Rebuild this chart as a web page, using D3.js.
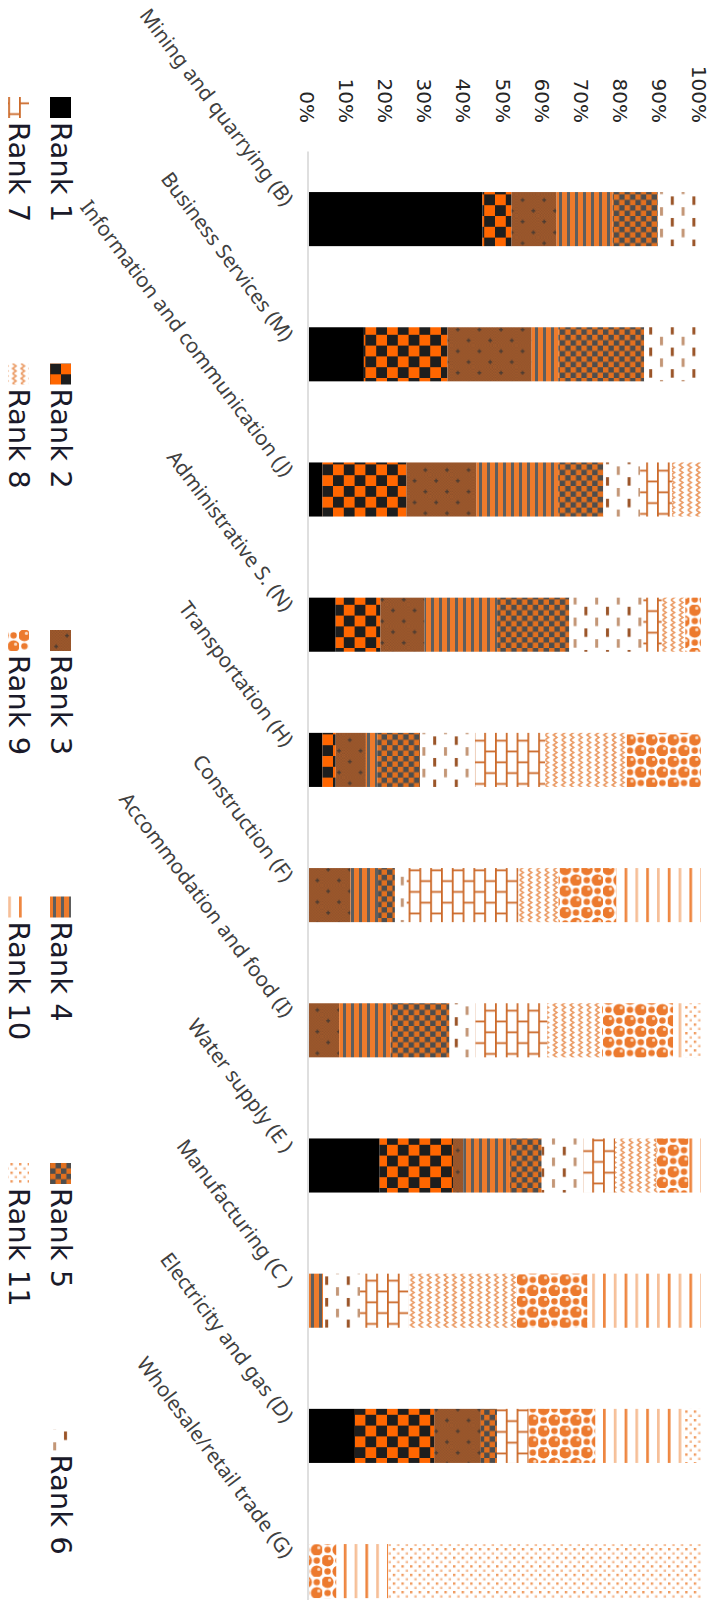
<!DOCTYPE html>
<html><head><meta charset="utf-8">
<script src="https://cdn.jsdelivr.net/npm/d3@7"></script>
<style>body{margin:0;background:#fff}svg{display:block}</style>
</head><body>
<svg id="c" width="711" height="1600"></svg>
<script>
const categories = ["Mining and quarrying (B)", "Business Services (M)", "Information and communication (J)", "Administrative S. (N)", "Transportation (H)", "Construction (F)", "Accommodation and food (I)", "Water supply (E )", "Manufacturing (C )", "Electricity and gas (D)", "Wholesale/retail trade (G)"];
const ranks = ["Rank 1","Rank 2","Rank 3","Rank 4","Rank 5","Rank 6","Rank 7","Rank 8","Rank 9","Rank 10","Rank 11"];
const rank1  = [44.2, 14.0,  3.4,  6.8,  3.4,  0,    0,    18.0,  0,    11.7,  0];
const rank2  = [ 7.4, 21.3, 21.4, 11.4,  3.4,  0,    0,    18.7,  0,    20.2,  0];
const rank3  = [11.5, 21.5, 17.9, 11.3,  7.7, 10.6,  7.7,   2.6,  0,    11.9,  0];
const rank4  = [14.3,  6.8, 20.8, 18.5,  2.9,  7.0, 13.1,  11.9,  3.6,   0,    0];
const rank5  = [11.5, 21.9, 11.5, 18.4, 10.9,  4.3, 15.0,   8.1,  0,     4.1,  0];
const rank6  = [11.0, 14.5,  9.4, 18.9, 14.0,  3.0,  6.6,  10.6,  9.4,   0,    0];
const rank7  = [ 0,    0,    8.1,  4.7, 17.9, 28.5, 18.3,   8.1, 12.3,   8.1,  0];
const rank8  = [ 0,    0,    7.4,  6.0, 20.8, 10.2, 14.0,  10.6, 27.6,   0,    0];
const rank9  = [ 0,    0,    0,    4.0, 18.9, 14.7, 18.1,   8.1, 18.0,  17.0,  7.0];
const rank10 = [ 0,    0,    0,    0,    0,   21.6,  2.7,   3.2, 28.9,  22.5, 13.2];
const rank11 = [ 0,    0,    0,    0,    0,    0,    4.4,   0,    0,     4.4, 79.7];
const tickValues = [0,0.1,0.2,0.3,0.4,0.5,0.6,0.7,0.8,0.9,1];
const tickLabels = ["0%","10%","20%","30%","40%","50%","60%","70%","80%","90%","100%"];

const series = [rank1,rank2,rank3,rank4,rank5,rank6,rank7,rank8,rank9,rank10,rank11];
const table = categories.map((c,i)=>{const o={cat:c}; ranks.forEach((r,j)=>o[r]=series[j][i]); return o;});

const svg = d3.select("#c");
const defs = svg.append("defs");
const FONT = "'Noto Sans', 'Open Sans', sans-serif";
const FONT2 = "'DejaVu Sans', sans-serif";

// ---- patterns (designed in screen orientation) ----
function pat(id, w, h, draw){
  const p = defs.append("pattern").attr("id",id).attr("patternUnits","userSpaceOnUse")
    .attr("width",w).attr("height",h).attr("patternTransform","rotate(-90)");
  draw(p); return p;
}
const R = (p,x,y,w,h,f)=>p.append("rect").attr("x",x).attr("y",y).attr("width",w).attr("height",h).attr("fill",f);
pat("p1",10,10,p=>R(p,0,0,10,10,"#000"));
pat("p2",21.6,21.6,p=>{R(p,0,0,21.6,21.6,"#1e1e1e");R(p,0,0,10.8,10.8,"#ff6600");R(p,10.8,10.8,10.8,10.8,"#ff6600");});
pat("p3d",2.8,2.8,p=>{R(p,0,0,2.8,2.8,"#a65d2c");R(p,0,0,1.4,1.4,"#8a4e2a");R(p,1.4,1.4,1.4,1.4,"#8a4e2a");});
pat("p3",21.6,21.6,p=>{R(p,0,0,21.6,21.6,"url(#p3d)");
  R(p,4,5,4,1.3,"#4a3a30");R(p,5.35,3.6,1.3,4,"#4a3a30");
  R(p,14.8,15.8,4,1.3,"#4a3a30");R(p,16.15,14.4,1.3,4,"#4a3a30");});
pat("p4",8,8,p=>{R(p,0,0,8,8,"#ee7b2c");R(p,0,0,3,8,"#5e5e5e");});
pat("p5",10.8,10.8,p=>{R(p,0,0,10.8,10.8,"#4d4d4d");R(p,0,0,5.4,5.4,"#e2701f");R(p,5.4,5.4,5.4,5.4,"#e2701f");});
pat("p6",21.6,21.6,p=>{R(p,0,0,21.6,21.6,"#fff");R(p,3,2,3,8.5,"#9a5428");R(p,13.8,12.8,3,8.5,"#c39676");});
pat("p7",21.6,21.6,p=>{R(p,0,0,21.6,21.6,"#fff");
  R(p,0,0,1.8,21.6,"#cc6a2a");R(p,10.8,0,1.8,21.6,"#cc6a2a");
  R(p,0,5.4,10.8,1.8,"#cc6a2a");R(p,10.8,16.2,10.8,1.8,"#cc6a2a");});
pat("p8",8.4,10,p=>{R(p,0,0,8.4,10,"#fff");
  p.append("path").attr("d","M2,0 L5.5,2.5 L2,5 L5.5,7.5 L2,10").attr("fill","none").attr("stroke","#eb9c66").attr("stroke-width",1.6);});
pat("p9",21.6,21.6,p=>{R(p,0,0,21.6,21.6,"#fff");
  [[5.4,5.4,6.0],[16.2,16.2,6.0],[16.2,5.4,3.2],[5.4,16.2,3.2]].forEach(([cx,cy,r])=>{
    p.append("circle").attr("cx",cx).attr("cy",cy).attr("r",r).attr("fill","#ec7a2e");});
  [[5.4,5.4],[16.2,16.2]].forEach(([cx,cy])=>p.append("circle").attr("cx",cx+2).attr("cy",cy-2).attr("r",1.6).attr("fill","#fbdcc4"));});
pat("p10",21.6,10,p=>{R(p,0,0,21.6,10,"#fff");R(p,0,0,2.7,10,"#ee8640");R(p,10.8,0,2.7,10,"#f6bf98");});
pat("p11",8.6,8.6,p=>{R(p,0,0,8.6,8.6,"#fff");R(p,0,0,2.4,2.4,"#f09a5e");R(p,4.3,4.3,2.4,2.4,"#f5bb93");});
const fills = ranks.map((r,i)=>`url(#p${i+1})`);

// ---- chart in unrotated frame, then rotated 90deg clockwise ----
const g = svg.append("g").attr("transform","translate(711,0) rotate(90)");
const x = d3.scaleBand().domain(categories).range([151.5, 1638.7]).paddingInner(0.6).paddingOuter(0.3);
const y = d3.scaleLinear().domain([0,1]).range([402, 10]);
const stack = d3.stack().keys(ranks).offset(d3.stackOffsetExpand);
const stacked = stack(table);

g.selectAll("g.layer").data(stacked).join("g").attr("class","layer")
  .attr("fill",(d,i)=>fills[i])
  .selectAll("rect").data(d=>d).join("rect")
  .attr("x",d=>x(d.data.cat)).attr("width",x.bandwidth())
  .attr("y",d=>y(d[1])).attr("height",d=>Math.max(0,y(d[0])-y(d[1])));

// category axis line
g.append("line").attr("x1",151.5).attr("x2",1638.7).attr("y1",y(0)+1).attr("y2",y(0)+1)
  .attr("stroke","#d4d4d4").attr("stroke-width",1.5);

// value axis labels
const yAxis = d3.axisLeft(y).tickValues(tickValues).tickFormat((d,i)=>tickLabels[i]).tickSize(0).tickPadding(0);
const ya = g.append("g").attr("transform","translate(123,0)").call(yAxis);
ya.select(".domain").remove();
ya.selectAll("text").attr("font-family",FONT2).attr("font-size",20).attr("dy","0.44em").attr("fill","#262626");

// category labels
g.selectAll("text.cat").data(categories).join("text").attr("class","cat")
  .attr("transform",d=>`translate(${x(d)+x.bandwidth()/2-16},422) rotate(-37)`)
  .attr("text-anchor","end").attr("dy","0.35em")
  .attr("font-family",FONT).attr("font-size",20.5).attr("fill","#404040").text(d=>d);

// legend
const legStart = 97, legStep = 266.5;
const leg = g.selectAll("g.leg").data(ranks).join("g").attr("class","leg")
  .attr("transform",(d,i)=>{const row = i<6?0:1, col = i<6?i:i-6;
     return `translate(${legStart+col*legStep},${row===0?650:692})`;});
leg.append("rect").attr("x",0).attr("y",-10).attr("width",21).attr("height",21).attr("fill",(d,i)=>fills[i]);
leg.append("text").attr("x",25).attr("dy","0.36em").attr("font-family",FONT2).attr("font-size",29)
  .attr("fill","#1a1a2a").text(d=>d);
</script>
</body></html>
